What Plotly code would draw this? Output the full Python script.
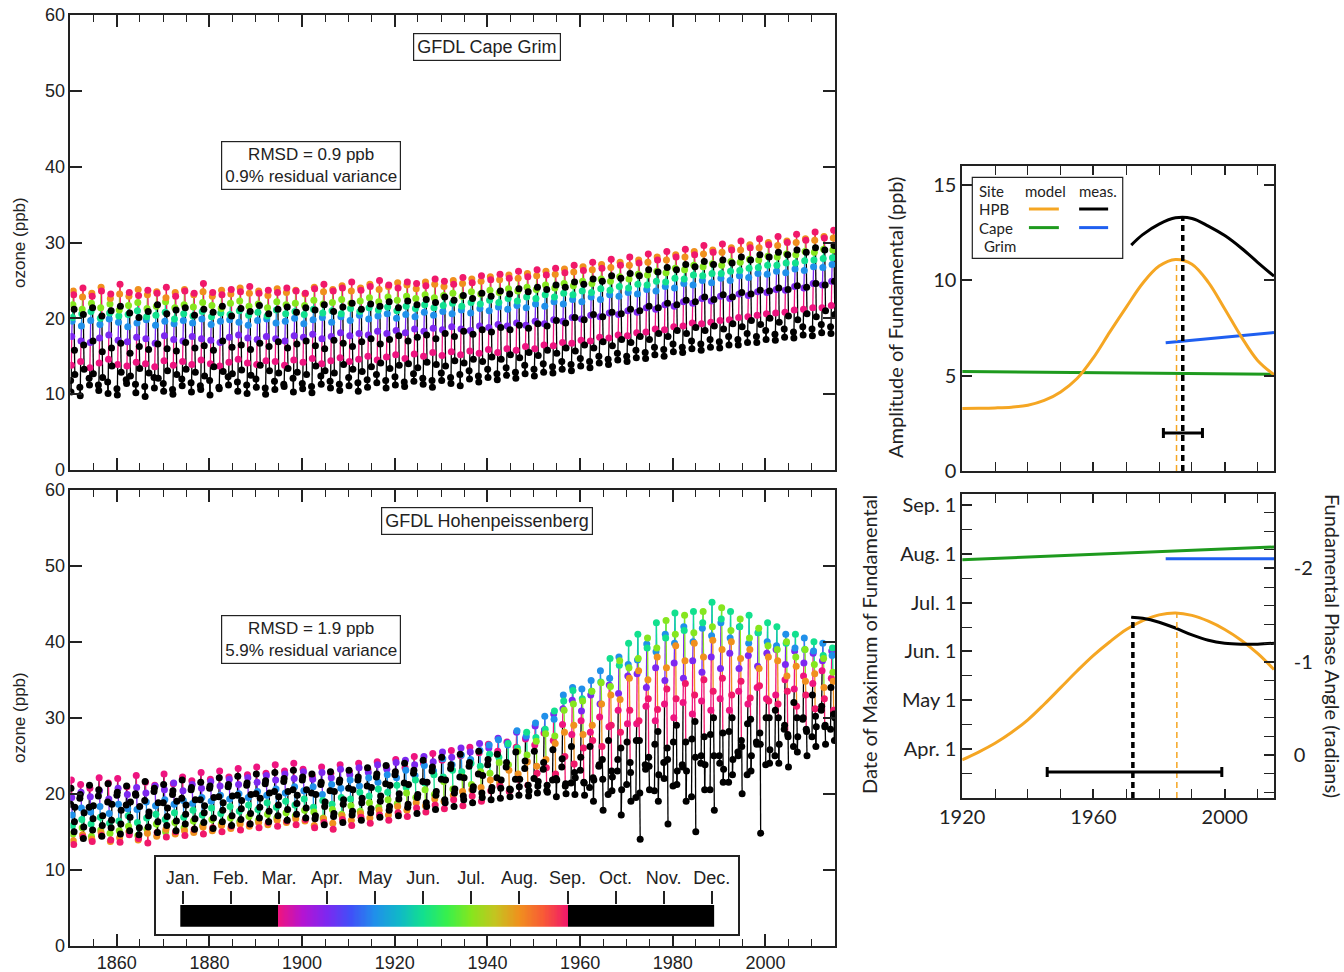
import numpy as np
import plotly.graph_objects as go

# ---------------- data (left panels) ----------------
# monthly ozone (tenths of ppb), one row per sampled year, Jan..Dec
sample_years = list(range(1850, 2015, 2))
month_names = ['Jan.', 'Feb.', 'Mar.', 'Apr.', 'May', 'Jun.', 'Jul.', 'Aug.', 'Sep.', 'Oct.', 'Nov.', 'Dec.']

cape_grim_x10 = [
    [118,103,138,176,196,201,218,236,231,212,158,126],
    [109,98,143,170,190,206,212,228,240,205,165,133],
    [121,112,135,168,197,209,220,233,229,214,170,127],
    [112,105,141,174,192,200,214,241,236,203,156,122],
    [116,101,146,178,199,207,219,226,232,210,161,137],
    [107,99,139,171,195,203,211,232,245,216,167,129],
    [119,114,137,169,189,205,217,229,234,207,154,124],
    [113,102,142,175,194,210,221,238,230,201,163,134],
    [110,97,140,173,198,202,213,231,237,209,159,128],
    [122,108,136,167,191,204,216,235,233,218,166,121],
    [114,104,144,177,196,208,222,227,241,206,160,131],
    [106,100,138,172,193,199,214,234,229,211,157,126],
    [120,111,143,170,197,206,218,238,236,214,168,133],
    [115,103,139,176,194,203,215,231,233,204,161,129],
    [111,106,145,173,199,209,221,235,246,212,164,124],
    [118,99,140,171,192,202,217,229,234,208,158,136],
    [109,107,137,168,196,207,213,237,231,216,170,130],
    [123,112,142,175,198,205,220,232,238,203,162,127],
    [116,104,146,178,195,210,223,240,235,213,165,132],
    [112,101,141,174,191,204,216,233,242,209,159,125],
    [120,109,139,172,197,208,219,236,233,217,167,138],
    [108,100,144,176,199,203,214,230,237,206,163,131],
    [117,106,143,173,194,211,222,239,234,212,169,128],
    [113,110,138,170,196,206,218,234,240,215,161,134],
    [121,103,145,177,200,209,220,237,236,208,166,129],
    [114,107,142,175,193,205,217,232,233,214,170,126],
    [110,102,147,179,198,212,224,241,239,211,164,137],
    [124,113,140,173,201,207,219,235,245,218,160,131],
    [117,108,144,176,195,210,221,238,236,209,171,128],
    [113,105,148,181,202,206,225,243,240,215,167,139],
    [122,111,143,177,197,213,220,236,248,220,163,133],
    [115,104,146,180,204,209,223,240,237,212,169,130],
    [119,109,150,178,199,214,227,245,242,219,173,136],
    [126,115,145,183,203,211,222,238,250,216,166,141],
    [118,108,149,180,206,215,228,242,244,222,172,134],
    [123,112,152,184,200,210,224,247,240,214,177,138],
    [116,110,147,181,205,216,229,244,248,223,170,140],
    [127,117,153,186,202,213,226,239,246,218,175,135],
    [121,113,150,183,208,218,231,248,243,225,178,142],
    [118,109,155,187,204,214,227,245,252,221,173,139],
    [128,118,151,185,209,217,230,242,249,228,180,137],
    [122,114,156,189,206,220,233,250,245,224,176,144],
    [126,111,152,186,211,216,229,246,254,230,183,141],
    [131,120,157,184,207,221,235,252,247,226,179,146],
    [124,116,154,190,213,219,232,249,256,233,185,143],
    [133,122,159,188,210,224,237,255,251,229,182,149],
    [127,119,155,192,215,221,234,251,258,236,188,146],
    [135,125,160,190,212,226,239,257,253,232,185,152],
    [129,121,158,194,217,223,236,253,262,239,191,148],
    [138,127,163,191,214,228,241,259,255,235,187,155],
    [133,124,160,196,219,226,238,256,264,241,193,151],
    [140,129,165,193,216,231,244,262,257,238,190,158],
    [136,128,164,198,222,228,240,258,266,244,197,154],
    [143,133,168,196,219,233,246,265,260,241,194,161],
    [139,131,167,201,225,231,243,261,270,248,201,157],
    [147,137,171,199,222,236,249,268,263,245,198,165],
    [143,135,170,204,228,234,246,264,274,252,205,161],
    [150,141,175,202,225,239,252,271,266,249,202,169],
    [146,139,174,207,231,237,249,267,278,256,208,164],
    [154,145,178,205,229,242,255,274,270,253,206,172],
    [150,143,177,210,234,240,252,270,281,259,212,168],
    [158,148,181,208,232,245,258,277,273,256,210,176],
    [155,147,182,214,238,244,257,274,285,264,216,172],
    [162,152,186,212,236,249,262,281,277,261,214,180],
    [159,150,185,218,242,248,260,277,288,267,220,176],
    [166,156,189,216,240,253,266,284,281,264,218,184],
    [162,155,190,222,246,252,264,281,291,271,224,180],
    [170,160,194,220,244,257,270,288,284,268,222,188],
    [166,158,193,226,250,256,268,285,296,275,228,184],
    [172,162,195,223,247,259,272,290,287,271,225,190],
    [169,161,197,229,253,259,270,287,298,277,231,186],
    [176,165,198,226,250,262,275,293,290,273,228,193],
    [172,165,201,232,256,263,274,290,302,281,234,189],
    [180,168,202,230,254,266,278,297,293,277,232,197],
    [176,168,204,235,259,267,277,293,305,284,237,192],
    [184,172,206,234,258,270,282,300,297,281,236,200],
    [179,171,207,238,262,270,281,296,308,287,240,195],
    [186,175,208,237,260,273,285,302,300,284,238,203],
    [182,174,211,242,265,273,284,300,311,290,243,198],
    [189,178,212,240,263,276,288,305,303,287,241,206],
    [186,177,214,246,268,277,287,303,314,293,246,202],
    [192,181,214,244,267,279,291,308,306,290,244,210],
    [189,180,217,249,271,280,290,306,316,296,249,205],
]

hohenpeissenberg_x10 = [
    [186,207,218,195,172,158,147,138,133,150,163,182],
    [194,199,212,202,181,166,155,146,143,141,156,175],
    [182,211,207,196,176,160,144,140,137,152,167,184],
    [197,205,221,204,183,169,152,149,145,144,158,171],
    [189,213,214,193,174,161,148,137,139,155,165,186],
    [198,202,220,207,186,164,151,142,136,147,160,178],
    [185,210,209,199,180,171,157,150,146,151,169,189],
    [200,198,224,208,179,162,145,139,141,146,155,183],
    [191,216,215,201,189,168,153,148,135,156,171,176],
    [203,207,211,210,184,173,160,144,149,149,163,188],
    [188,212,226,205,192,166,150,153,143,158,170,181],
    [199,204,213,214,186,175,162,147,150,151,164,190],
    [194,218,222,204,191,169,155,151,145,160,173,185],
    [205,208,217,212,187,178,164,149,153,153,167,192],
    [192,215,228,207,195,172,158,156,147,162,175,184],
    [207,210,219,216,190,181,166,151,155,154,168,195],
    [196,221,230,210,198,174,160,158,150,163,178,188],
    [209,212,222,219,193,183,168,154,157,158,171,197],
    [198,223,233,212,200,177,163,160,152,166,180,191],
    [211,214,225,221,195,185,170,157,160,160,174,199],
    [200,226,235,215,203,179,165,162,155,168,182,194],
    [213,217,227,224,198,188,173,159,162,163,177,201],
    [203,228,238,218,206,182,168,165,157,171,185,196],
    [216,220,230,226,201,190,175,162,164,165,179,203],
    [205,231,240,220,209,185,171,167,159,173,187,198],
    [218,222,232,229,204,193,178,164,166,168,181,205],
    [201,226,223,219,209,182,176,158,155,167,171,199],
    [212,215,235,228,199,191,168,167,162,159,183,189],
    [204,229,227,221,212,186,179,161,153,170,174,203],
    [215,218,238,232,207,195,173,171,166,162,186,192],
    [207,231,229,225,218,193,184,165,158,172,177,205],
    [218,222,240,234,210,202,177,174,169,165,188,194],
    [210,234,232,228,221,197,188,168,161,175,180,208],
    [222,226,242,238,215,206,182,178,172,169,190,197],
    [213,237,235,232,225,202,192,172,165,178,183,211],
    [225,229,245,241,221,211,187,183,175,171,193,200],
    [214,240,234,244,231,208,201,178,170,182,186,212],
    [227,231,249,238,224,218,195,188,181,174,195,199],
    [216,244,240,249,237,214,205,184,176,188,183,215],
    [230,235,253,242,230,225,199,193,185,179,198,203],
    [219,248,244,255,246,222,216,190,180,192,188,218],
    [233,238,257,248,238,231,206,198,192,183,201,206],
    [222,252,250,260,251,229,222,203,184,197,192,221],
    [236,241,261,255,245,240,212,205,197,188,205,209],
    [226,256,254,266,257,236,229,208,190,201,195,224],
    [238,245,265,260,264,252,227,218,204,192,204,208],
    [221,252,256,273,271,248,241,214,210,194,207,218],
    [235,241,268,267,264,266,238,231,203,206,196,205],
    [219,255,261,281,283,260,256,226,219,198,209,219],
    [233,243,272,274,276,281,251,242,211,211,197,204],
    [220,256,264,289,293,274,269,236,227,201,210,216],
    [232,241,280,284,302,285,279,245,234,204,211,202],
    [218,258,270,305,298,309,276,266,226,220,196,218],
    [235,246,291,312,330,322,310,281,249,210,213,200],
    [214,262,278,323,340,336,318,290,239,228,199,221],
    [231,248,296,309,338,325,322,278,260,215,214,198],
    [208,262,281,330,349,335,335,290,270,221,190,218],
    [236,238,301,318,362,347,346,318,262,245,219,178],
    [199,270,288,343,352,378,341,330,290,230,204,222],
    [230,245,310,332,380,369,375,324,281,260,172,205],
    [212,268,292,355,370,398,366,352,310,241,228,190],
    [195,270,292,358,376,410,378,362,296,270,201,140],
    [238,232,315,340,397,392,405,350,325,248,236,205],
    [204,265,296,366,387,425,392,380,311,282,190,225],
    [241,220,318,349,410,405,428,366,338,260,245,160],
    [210,268,300,372,398,438,410,395,325,290,212,230],
    [238,235,320,352,420,415,435,375,345,268,190,230],
    [196,272,305,375,400,440,412,398,330,295,248,150],
    [240,250,322,360,418,425,440,380,350,275,205,238],
    [205,278,310,380,408,452,420,402,335,300,250,178],
    [250,240,325,365,425,430,445,390,352,280,215,232],
    [215,282,310,385,405,440,415,400,330,300,225,245],
    [255,250,335,365,420,420,430,378,348,270,262,200],
    [225,292,318,382,398,435,405,390,326,298,230,250],
    [268,265,340,368,412,412,418,365,342,280,265,148],
    [238,300,325,385,400,425,395,380,322,300,240,258],
    [250,310,330,390,395,420,390,375,318,300,240,265],
    [285,290,350,370,410,398,400,355,335,278,275,235],
    [262,320,338,388,392,410,380,368,315,300,255,275],
    [298,300,355,372,405,390,390,348,330,285,282,250],
    [275,330,345,385,388,400,370,358,312,302,262,288],
    [310,315,362,375,398,382,378,340,325,288,290,265],
    [285,340,352,388,382,392,360,348,310,305,270,300],
]

# ---------------- data (right panels) ----------------
fit_years = [1920, 1925, 1930, 1935, 1940, 1945, 1950, 1955, 1960, 1965,
             1970, 1975, 1980, 1985, 1990, 1995, 2000, 2005, 2010, 2015]
hpb_model_amp = [3.28, 3.29, 3.31, 3.35, 3.45, 3.70, 4.15, 4.85, 5.95, 7.30,
                 8.60, 9.85, 10.75, 11.10, 10.85, 9.90, 8.50, 7.05, 5.80, 5.05]
hpb_model_date = [2.78, 2.94, 3.12, 3.34, 3.60, 3.92, 4.26, 4.60, 4.92, 5.20,
                  5.45, 5.63, 5.75, 5.79, 5.74, 5.62, 5.45, 5.23, 4.96, 4.63]
hpb_meas_years = [1971.5, 1975, 1980, 1985, 1990, 1995, 2000, 2005, 2010, 2015]
hpb_meas_amp = [11.85, 12.40, 12.95, 13.28, 13.25, 12.85, 12.35, 11.70, 10.95, 10.22]
hpb_meas_date = [5.70, 5.68, 5.60, 5.48, 5.34, 5.23, 5.17, 5.15, 5.15, 5.17]
cg_model_years = [1920, 2015]
cg_model_amp = [5.22, 5.08]
cg_model_date = [6.88, 7.14]
cg_meas_years = [1982, 2015]
cg_meas_amp = [6.73, 7.26]
cg_meas_date = [6.90, 6.90]

# peak years / uncertainty
amp_peak_model = (1985.3, 11.10)
amp_peak_meas = (1987.2, 13.30)
amp_peak_err = (1987.25, 2.0, 5.95)     # centre year, bar height (ppb), half-width (yr)
date_peak_model = (1985.4, 5.79)
date_peak_meas = (1972.0, 5.70)
date_peak_err = (1972.5, 2.53, 26.6)    # centre year, bar height (months), half-width (yr)

# month-of-year colour scale (months since Jan 1)
stops = [(0.0, '#000000'), (1.999, '#000000'), (2.0, '#EE1480'), (2.5, '#B414D2'),
         (3.0, '#7D28F0'), (3.5, '#4050F8'), (4.0, '#2090EA'), (4.5, '#10B8C8'),
         (5.0, '#12E08E'), (5.5, '#38F04C'), (6.0, '#86E61E'), (6.5, '#C4C420'),
         (7.0, '#F0901E'), (7.5, '#F85A36'), (8.0, '#F0186A'), (8.001, '#000000'),
         (11.0, '#000000')]


def hex_rgb(h):
    return tuple(int(h[i:i + 2], 16) for i in (1, 3, 5))


def color_at(v):
    for (p0, c0), (p1, c1) in zip(stops[:-1], stops[1:]):
        if p0 <= v <= p1:
            t = 0.0 if p1 == p0 else (v - p0) / (p1 - p0)
            a, b = hex_rgb(c0), hex_rgb(c1)
            return 'rgb(%d,%d,%d)' % tuple(round(a[k] + (b[k] - a[k]) * t) for k in range(3))
    return '#000000'


month_colors = [color_at(m) for m in range(12)]
colorscale = [[p / 11.0, c] for p, c in stops]

LEFT_FONT = 'Liberation Sans, Arial, sans-serif'
RIGHT_FONT = 'Lato, Noto Sans, sans-serif'
AX = '#222222'

fig = go.Figure()


def add_site(rows, xa, ya):
    n = min(len(rows), len(sample_years))
    xs = np.array([[sample_years[i] + (m + 0.5) / 12.0 for m in range(12)] for i in range(n)])
    ys = np.array(rows[:n], dtype=float) / 10.0
    for m in range(11):
        sx, sy = [], []
        for i in range(n):
            sx += [xs[i, m], xs[i, m + 1], None]
            sy += [ys[i, m], ys[i, m + 1], None]
        fig.add_trace(go.Scatter(x=sx, y=sy, mode='lines', xaxis=xa, yaxis=ya,
                                 line=dict(color=month_colors[m], width=1.3),
                                 hoverinfo='skip', showlegend=False))
    order = [2, 3, 4, 5, 6, 7, 8, 0, 1, 9, 10, 11]
    for m in order:
        fig.add_trace(go.Scatter(x=xs[:, m], y=ys[:, m], mode='markers', xaxis=xa, yaxis=ya,
                                 marker=dict(color=month_colors[m], size=7, line=dict(width=0)),
                                 name=month_names[m], showlegend=False))


add_site(cape_grim_x10, 'x', 'y')
add_site(hohenpeissenberg_x10, 'x2', 'y2')

ORANGE, GREEN, BLUE = '#F5A623', '#1E9A1E', '#1F5FF0'


def curve(x, y, color, xa, ya, width=3):
    fig.add_trace(go.Scatter(x=x, y=y, mode='lines', xaxis=xa, yaxis=ya,
                             line=dict(color=color, width=width, shape='spline', smoothing=1.0),
                             hoverinfo='skip', showlegend=False))


# ---------------- right-top: amplitude ----------------
curve(cg_model_years, cg_model_amp, GREEN, 'x3', 'y3')
curve(cg_meas_years, cg_meas_amp, BLUE, 'x3', 'y3')
curve(fit_years, hpb_model_amp, ORANGE, 'x3', 'y3')
curve(hpb_meas_years, hpb_meas_amp, 'black', 'x3', 'y3')
fig.add_trace(go.Scatter(x=[amp_peak_model[0]] * 2, y=[0, amp_peak_model[1]], mode='lines',
                         xaxis='x3', yaxis='y3', line=dict(color=ORANGE, width=1.5, dash='6px,4px'),
                         hoverinfo='skip', showlegend=False))
fig.add_trace(go.Scatter(x=[amp_peak_meas[0]] * 2, y=[0, amp_peak_meas[1]], mode='lines',
                         xaxis='x3', yaxis='y3', line=dict(color='black', width=3.5, dash='6px,4px'),
                         hoverinfo='skip', showlegend=False))
fig.add_trace(go.Scatter(x=[amp_peak_err[0]], y=[amp_peak_err[1]], mode='markers',
                         xaxis='x3', yaxis='y3', marker=dict(size=1, color='black'),
                         error_x=dict(type='data', array=[amp_peak_err[2]], color='black',
                                      thickness=3, width=5),
                         hoverinfo='skip', showlegend=False))

# ---------------- right-bottom: date of maximum ----------------
curve(cg_model_years, cg_model_date, GREEN, 'x4', 'y4')
curve(cg_meas_years, cg_meas_date, BLUE, 'x4', 'y4')
curve(fit_years, hpb_model_date, ORANGE, 'x4', 'y4')
curve(hpb_meas_years, hpb_meas_date, 'black', 'x4', 'y4')
Y4_RANGE = [2.0, 8.225]
fig.add_trace(go.Scatter(x=[date_peak_model[0]] * 2, y=[Y4_RANGE[0], date_peak_model[1]], mode='lines',
                         xaxis='x4', yaxis='y4', line=dict(color=ORANGE, width=1.5, dash='6px,4px'),
                         hoverinfo='skip', showlegend=False))
fig.add_trace(go.Scatter(x=[date_peak_meas[0]] * 2, y=[Y4_RANGE[0], date_peak_meas[1]], mode='lines',
                         xaxis='x4', yaxis='y4', line=dict(color='black', width=3.5, dash='6px,4px'),
                         hoverinfo='skip', showlegend=False))
fig.add_trace(go.Scatter(x=[date_peak_err[0]], y=[date_peak_err[1]], mode='markers',
                         xaxis='x4', yaxis='y4', marker=dict(size=1, color='black'),
                         error_x=dict(type='data', array=[date_peak_err[2]], color='black',
                                      thickness=3, width=5),
                         hoverinfo='skip', showlegend=False))
fig.add_trace(go.Scatter(x=[], y=[], xaxis='x4', yaxis='y5', showlegend=False))

# ---------------- colour key ----------------
fig.add_trace(go.Scatter(x=[], y=[], xaxis='x6', yaxis='y6', showlegend=False))
bar_x = np.linspace(-0.05, 11.05, 445)
fig.add_trace(go.Heatmap(x=bar_x, y=[0.5], z=[bar_x], zmin=0, zmax=11, colorscale=colorscale,
                         showscale=False, xaxis='x7', yaxis='y7', hoverinfo='skip'))

# ---------------- layout ----------------
W, H = 1344, 972


def px_x(a, b):
    return [a / W, b / W]


def px_y(top, bottom):
    return [1 - bottom / H, 1 - top / H]


left_x = px_x(70.4, 835)
right_x = px_x(962.2, 1274)

lt = dict(showline=True, linecolor=AX, linewidth=1.5, ticks='inside', tickcolor=AX,
          tickwidth=1.5, showgrid=False, zeroline=False, automargin=False,
          tickfont=dict(family=LEFT_FONT, size=18, color=AX))
rt = dict(showline=True, linecolor=AX, linewidth=1.5, ticks='inside', tickcolor=AX,
          tickwidth=1.5, showgrid=False, zeroline=False, automargin=False,
          tickfont=dict(family=RIGHT_FONT, size=20, color=AX))
plain = dict(showgrid=False, zeroline=False, automargin=False)

layout = dict(
    template='none',
    width=W, height=H, autosize=False, margin=dict(l=0, r=0, t=0, b=0, pad=0),
    paper_bgcolor='white', plot_bgcolor='white', showlegend=False,
    xaxis=dict(lt, domain=left_x, anchor='y', range=[1850, 2015], tick0=1860, dtick=20,
               ticklen=12, mirror='ticks', showticklabels=False,
               minor=dict(tick0=1850, dtick=5, ticks='inside', ticklen=7, tickcolor=AX, tickwidth=1.2)),
    yaxis=dict(lt, domain=px_y(15, 470), anchor='x', range=[0, 60], dtick=10, ticklen=12, mirror='ticks'),
    xaxis2=dict(lt, domain=left_x, anchor='y2', range=[1850, 2015], tick0=1860, dtick=20,
                ticklen=12, mirror='ticks',
                minor=dict(tick0=1850, dtick=5, ticks='inside', ticklen=7, tickcolor=AX, tickwidth=1.2)),
    yaxis2=dict(lt, domain=px_y(490, 945.5), anchor='x2', range=[0, 60], dtick=10, ticklen=12, mirror='ticks'),
    xaxis3=dict(rt, domain=right_x, anchor='y3', range=[1920, 2015], tick0=1920, dtick=40,
                ticklen=9, mirror='ticks', showticklabels=False,
                minor=dict(tick0=1920, dtick=10, ticks='inside', ticklen=9, tickcolor=AX, tickwidth=1.2)),
    yaxis3=dict(rt, domain=px_y(166, 471), anchor='x3', range=[0, 16], dtick=5, ticklen=10, mirror='ticks'),
    xaxis4=dict(rt, domain=right_x, anchor='y4', range=[1920, 2015], tick0=1920, dtick=40,
                ticklen=9, mirror='ticks',
                minor=dict(tick0=1920, dtick=10, ticks='inside', ticklen=9, tickcolor=AX, tickwidth=1.2)),
    yaxis4=dict(rt, domain=px_y(494, 798), anchor='x4', range=Y4_RANGE, tickmode='array',
                tickvals=[3, 4, 5, 6, 7, 8],
                ticktext=['Apr. 1', 'May 1', 'Jun. 1', 'Jul. 1', 'Aug. 1', 'Sep. 1'],
                ticklen=10, mirror=True,
                minor=dict(tick0=0.5, dtick=1.0, ticks='inside', ticklen=10, tickcolor=AX, tickwidth=1.2)),
    yaxis5=dict(rt, overlaying='y4', side='right', anchor='x4',
                range=[-(Y4_RANGE[0] - 2.88) * np.pi / 6, -(Y4_RANGE[1] - 2.88) * np.pi / 6],
                tickmode='array', tickvals=[-2, -1, 0], ticktext=['-2', '-1', '0'], ticklen=10,
                ticklabelstandoff=14,
                minor=dict(tick0=0, dtick=0.2, ticks='inside', ticklen=10, tickcolor=AX, tickwidth=1.2)),
    xaxis6=dict(plain, domain=px_x(155.7, 738), anchor='y6', range=[0, 1], showline=True, mirror=True,
                linecolor=AX, linewidth=1.5, showticklabels=False, ticks=''),
    yaxis6=dict(plain, domain=px_y(857, 934), anchor='x6', range=[0, 1], showline=True, mirror=True,
                linecolor=AX, linewidth=1.5, showticklabels=False, ticks=''),
    xaxis7=dict(plain, domain=px_x(180.3, 714.2), anchor='y7', range=[-0.05, 11.05], side='top',
                tickmode='array', tickvals=list(range(12)), ticktext=month_names,
                ticks='outside', ticklen=13, tickwidth=1.5, tickcolor=AX, showline=False,
                tickfont=dict(family=LEFT_FONT, size=18, color=AX)),
    yaxis7=dict(plain, domain=px_y(905, 926.7), anchor='x7', range=[0, 1], showticklabels=False,
                ticks='', showline=False),
)
fig.update_layout(**layout)

shapes = [
    dict(type='rect', xref='x6', yref='y6', x0=0, x1=1, y0=0, y1=1, layer='below',
         fillcolor='white', line=dict(width=0)),
    dict(type='rect', xref='x3 domain', yref='y3 domain', x0=0.0324, x1=0.5148, y0=0.6974, y1=0.963,
         fillcolor='white', line=dict(color=AX, width=1.2), layer='above'),
    dict(type='line', xref='x3 domain', yref='y3 domain', x0=0.214, x1=0.310, y0=0.859, y1=0.859,
         line=dict(color=ORANGE, width=3), layer='above'),
    dict(type='line', xref='x3 domain', yref='y3 domain', x0=0.375, x1=0.468, y0=0.859, y1=0.859,
         line=dict(color='black', width=3), layer='above'),
    dict(type='line', xref='x3 domain', yref='y3 domain', x0=0.214, x1=0.310, y0=0.798, y1=0.798,
         line=dict(color=GREEN, width=3), layer='above'),
    dict(type='line', xref='x3 domain', yref='y3 domain', x0=0.375, x1=0.468, y0=0.798, y1=0.798,
         line=dict(color=BLUE, width=3), layer='above'),
]

rf = dict(family=RIGHT_FONT, size=20, color=AX)
gf = dict(family=RIGHT_FONT, size=15, color=AX)


def note(text, x, y, font, xref='paper', yref='paper', xanchor='center', **kw):
    return dict(text=text, x=x, y=y, xref=xref, yref=yref, showarrow=False, font=font,
                xanchor=xanchor, yanchor='middle', **kw)


def box(text, x, y, size):
    return note(text, x, y, dict(family=LEFT_FONT, size=size, color=AX), bgcolor='white',
                bordercolor=AX, borderwidth=1.2, borderpad=3, align='center')


lf17 = dict(family=LEFT_FONT, size=17, color=AX)
annotations = [
    box('GFDL Cape Grim', 486.7 / W, 1 - 47.2 / H, 18),
    box('RMSD = 0.9 ppb<br>0.9% residual variance', 311.3 / W, 1 - 165.7 / H, 17),
    box('GFDL Hohenpeissenberg', 487 / W, 1 - 521 / H, 18),
    box('RMSD = 1.9 ppb<br>5.9% residual variance', 311.3 / W, 1 - 639 / H, 17),
    note('ozone (ppb)', 19 / W, 1 - 243 / H, lf17, textangle=-90),
    note('ozone (ppb)', 19 / W, 1 - 718 / H, lf17, textangle=-90),
    note('Amplitude of Fundamental (ppb)', 895 / W, 1 - 318 / H, rf, textangle=-90),
    note('Date of Maximum of Fundamental', 869 / W, 1 - 645 / H, rf, textangle=-90),
    note('Fundamental Phase Angle (radians)', 1333 / W, 1 - 646 / H, rf, textangle=90),
    note('Site', 0.047, 0.919, gf, 'x3 domain', 'y3 domain', 'left'),
    note('model', 0.268, 0.919, gf, 'x3 domain', 'y3 domain'),
    note('meas.', 0.4355, 0.919, gf, 'x3 domain', 'y3 domain'),
    note('HPB', 0.047, 0.859, gf, 'x3 domain', 'y3 domain', 'left'),
    note('Cape', 0.047, 0.798, gf, 'x3 domain', 'y3 domain', 'left'),
    note('Grim', 0.063, 0.738, gf, 'x3 domain', 'y3 domain', 'left'),
]

fig.update_layout(shapes=shapes, annotations=annotations)
fig.write_html('out.html')
